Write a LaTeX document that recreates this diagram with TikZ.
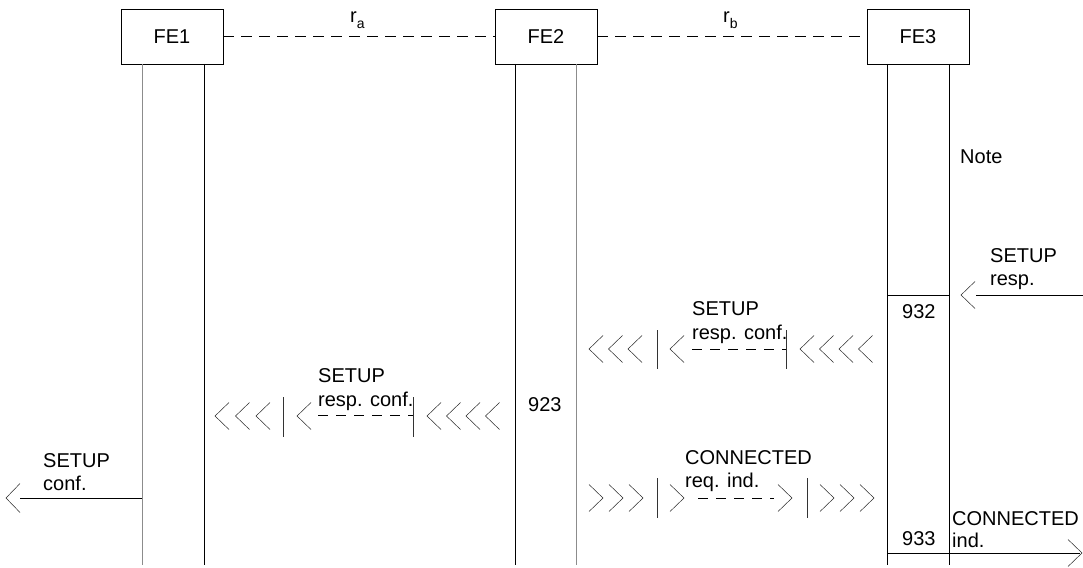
\documentclass[tikz,border=0pt]{standalone}
\usepackage{fontspec}
\setmainfont{Liberation Sans}
\begin{document}
\begin{tikzpicture}[x=1pt,y=-1pt,
  txt/.style={font=\fontsize{20}{24}\selectfont, inner sep=0pt, anchor=base west},
  box/.style={draw, line width=0.8pt, minimum width=102pt, minimum height=55pt, inner sep=0pt, font=\fontsize{20}{24}\selectfont},
  life/.style={line width=0.9pt},
  lifeg/.style={line width=0.9pt, black!45},
  dsh/.style={line width=0.8pt, dash pattern=on 11pt off 7pt},
  sdsh/.style={line width=0.8pt, dash pattern=on 10pt off 8pt},
  bar/.style={line width=0.9pt, black!80},
  sig/.style={line width=0.9pt},
  chev/.style={line width=0.5pt, black!85},
  chl/.pic={\draw[chev] (14,-13.5) -- (0,0) -- (14,13.5);},
  chr/.pic={\draw[chev] (0,-13.5) -- (14,0) -- (0,13.5);},
]
\useasboundingbox (0,0) rectangle (1083,567);

% functional entities
\node[box] (fe1) at (172,36.5) {FE1};
\node[box] (fe2) at (546,36.5) {FE2};
\node[box] (fe3) at (918,36.5) {FE3};
\draw[dsh] (fe1.east) -- (fe2.west);
\draw[dsh] (fe2.east) -- (fe3.west);
\node[txt] (ra) at (350,23) {r\raisebox{-6pt}{\fontsize{14}{14}\selectfont a}};
\node[txt] (rb) at (723,23) {r\raisebox{-6pt}{\fontsize{14}{14}\selectfont b}};

% lifelines
\draw[lifeg] (142,64) -- (142,565);
\draw[life]  (204,64) -- (204,565);
\draw[life]  (515,64) -- (515,565);
\draw[lifeg] (576,64) -- (576,565);
\draw[life]  (887,64) -- (887,565);
\draw[life]  (949,64) -- (949,565);

\node[txt] (note) at (960,163) {Note};

% SETUP resp.
\coordinate (sr0) at (1083,295);
\coordinate (sr1) at (976,295);
\draw[sig] (sr0) -- (sr1);
\pic at (961,295) {chl};
\node[txt] (sr2) at (990,262) {SETUP};
\node[txt] (sr3) at (990,285) {resp.};
\draw[life] (887,295) -- (949,295);
\node[txt] (n932) at (902,318) {932};

% SETUP resp. conf. FE3 -> FE2
\foreach \x in {589,608.5,628} \pic at (\x,349) {chl};
\draw[bar] (657,330) -- (657,369);
\pic at (670,349) {chl};
\coordinate (a1) at (692,349);
\coordinate (a2) at (786,349);
\draw[sdsh] (a1) -- (a2);
\draw[bar] (786,330) -- (786,369);
\foreach \x in {800,819.5,839,858.5} \pic at (\x,349) {chl};
\node[txt] (t1) at (692,315) {SETUP};
\node[txt] (t2) at (692,339) {resp. conf.};

% SETUP resp. conf. FE2 -> FE1
\foreach \x in {215,235.5,256} \pic at (\x,416) {chl};
\draw[bar] (283,397) -- (283,437);
\pic at (297,416) {chl};
\coordinate (b1) at (318,415);
\coordinate (b2) at (413,415);
\draw[sdsh] (b1) -- (b2);
\draw[bar] (413,397) -- (413,437);
\foreach \x in {427,446.5,466,485.5} \pic at (\x,416) {chl};
\node[txt] (t3) at (318,382) {SETUP};
\node[txt] (t4) at (318,406) {resp. conf.};
\node[txt] (n923) at (528,411) {923};

% SETUP conf.
\coordinate (c0) at (142,498);
\coordinate (c1) at (20,498);
\draw[sig] (c0) -- (c1);
\draw[chev] (20,483.5) -- (6,498) -- (20,512.5);
\node[txt] (t5) at (43,467) {SETUP};
\node[txt] (t6) at (43,490) {conf.};

% CONNECTED req. ind. FE2 -> FE3
\foreach \x in {589,609,629} \pic at (\x,498) {chr};
\draw[bar] (657,478) -- (657,518);
\pic at (670,498) {chr};
\coordinate (d1) at (698,498);
\coordinate (d2) at (774,498);
\draw[sdsh] (d1) -- (d2);
\pic at (778,498) {chr};
\draw[bar] (807,478) -- (807,518);
\foreach \x in {820,840,860} \pic at (\x,498) {chr};
\node[txt] (t7) at (685,464) {CONNECTED};
\node[txt] (t8) at (685,487) {req. ind.};

% CONNECTED ind.
\draw[life] (887,553) -- (949,553);
\node[txt] (n933) at (902,545) {933};
\coordinate (e0) at (949,553);
\coordinate (e1) at (1080,553);
\draw[sig] (e0) -- (e1);
\draw[chev] (1068,539.5) -- (1082,553) -- (1068,566.5);
\node[txt] (t9) at (952,525) {CONNECTED};
\node[txt] (t10) at (952,547) {ind.};
\end{tikzpicture}
\end{document}
